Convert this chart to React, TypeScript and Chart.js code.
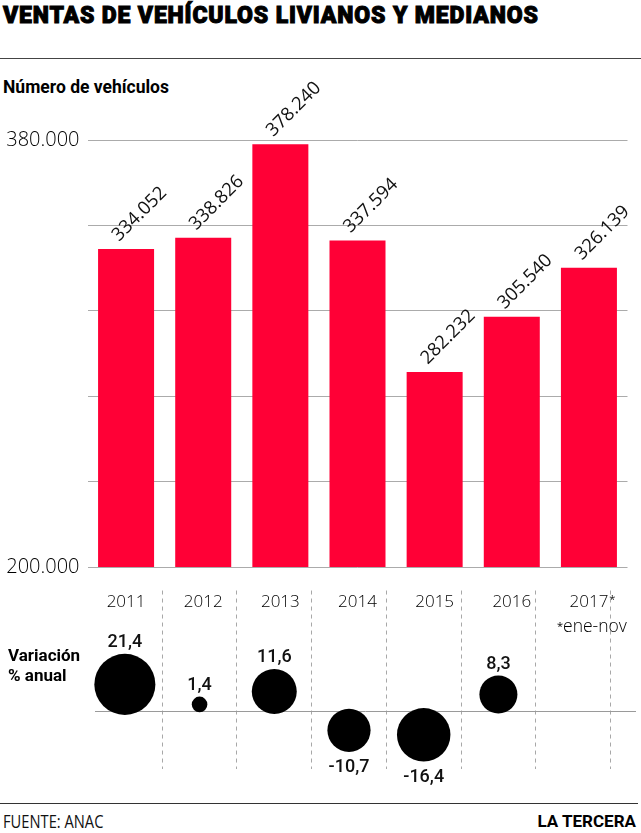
import React, { useEffect, useRef } from "react";
import { Chart, registerables } from "chart.js";

Chart.register(...registerables);

const years = ["2011", "2012", "2013", "2014", "2015", "2016", "2017*"];
const sales = [334052, 338826, 378240, 337594, 282232, 305540, 326139];
const variation: (number | null)[] = [21.4, 1.4, 11.6, -10.7, -16.4, 8.3, null];
const yMin = 200000;
const yMax = 380000;
const yStep = 36000;
const yLabeled = [200000, 380000];

const RED = "#ff0036";
const GRID = "#ababab";
const NUM_FONT = "'Open Sans', 'DejaVu Sans', sans-serif";
const BOLD_FONT = "Roboto, 'Open Sans', sans-serif";

const fmtThousands = (n: number) => String(n).replace(/\B(?=(\d{3})+(?!\d))/g, ".");
const fmtPct = (v: number) => v.toFixed(1).replace(".", ",");
const bubbleRadius = (v: number) => 6.6 * Math.sqrt(Math.abs(v));

export default function App() {
  const barRef = useRef<HTMLCanvasElement>(null);
  const bubRef = useRef<HTMLCanvasElement>(null);

  useEffect(() => {
    const barLabels = {
      id: "barLabels",
      afterDatasetsDraw(chart: any) {
        const ctx = chart.ctx;
        const meta = chart.getDatasetMeta(0);
        ctx.save();
        ctx.font = `400 18.5px ${NUM_FONT}`;
        ctx.fillStyle = "#111";
        ctx.textAlign = "left";
        ctx.textBaseline = "alphabetic";
        meta.data.forEach((el: any, i: number) => {
          ctx.save();
          ctx.translate(el.x - 7, el.y - 7);
          ctx.rotate(-Math.PI / 4);
          ctx.fillText(fmtThousands(sales[i]), 0, 0);
          ctx.restore();
        });
        ctx.restore();
      },
      afterDraw(chart: any) {
        // small superscript asterisk after starred category labels
        const ctx = chart.ctx;
        const xs = chart.scales.x;
        ctx.save();
        years.forEach((lab, i) => {
          if (!lab.endsWith("*")) return;
          ctx.font = `300 17px ${NUM_FONT}`;
          const w = ctx.measureText(lab.slice(0, -1)).width;
          const cx = xs.getPixelForValue(i);
          ctx.font = `400 11px ${NUM_FONT}`;
          ctx.fillStyle = "#111";
          ctx.textAlign = "left";
          ctx.textBaseline = "alphabetic";
          ctx.fillText("*", cx + w / 2 + 1, 603);
        });
        ctx.restore();
      },
    };

    const barChart = new Chart(barRef.current!, {
      type: "bar",
      data: {
        labels: years,
        datasets: [
          {
            data: sales,
            backgroundColor: RED,
            borderWidth: 0,
            categoryPercentage: 1,
            barPercentage: 0.726,
          },
        ],
      },
      options: {
        animation: false,
        responsive: false,
        devicePixelRatio: 1,
        layout: { padding: { left: 0, right: 13.5, top: 140, bottom: 13 } },
        plugins: { legend: { display: false }, tooltip: { enabled: false } },
        scales: {
          x: {
            offset: true,
            grid: { display: false },
            border: { display: false },
            ticks: {
              color: "#000",
              font: { family: NUM_FONT, size: 17, weight: "300" as any },
              padding: 17,
              callback: (_v: any, i: number) => years[i].replace("*", ""),
            },
            afterFit(scale: any) {
              scale.height = 60;
            },
          },
          y: {
            min: yMin,
            max: yMax,
            border: { display: false },
            grid: { color: GRID, lineWidth: 1, drawTicks: false },
            ticks: {
              stepSize: yStep,
              color: "#000",
              padding: 8,
              font: { family: NUM_FONT, size: 20, weight: "300" as any },
              callback: (v: any) => (yLabeled.includes(Number(v)) ? fmtThousands(Number(v)) : ""),
            },
            afterFit(scale: any) {
              scale.width = 87.5;
            },
          },
        },
      },
      plugins: [barLabels],
    } as any);

    const pts = years
      .map((yr, i) => {
        const v = variation[i];
        if (v == null) return null;
        const r = bubbleRadius(v);
        return { x: yr, y: v >= 0 ? r : -r, r, v };
      })
      .filter((p) => p !== null) as any[];

    const bubbleExtras = {
      id: "bubbleExtras",
      beforeDatasetsDraw(chart: any) {
        const ctx = chart.ctx;
        const y0 = Math.round(chart.scales.y.getPixelForValue(0)) + 0.5;
        ctx.save();
        ctx.strokeStyle = "#9a9a9a";
        ctx.lineWidth = 1;
        ctx.beginPath();
        ctx.moveTo(95, y0);
        ctx.lineTo(636, y0);
        ctx.stroke();
        ctx.restore();
      },
      afterDatasetsDraw(chart: any) {
        const ctx = chart.ctx;
        const meta = chart.getDatasetMeta(0);
        ctx.save();
        ctx.font = `500 18px ${BOLD_FONT}`;
        ctx.fillStyle = "#111";
        ctx.textAlign = "center";
        ctx.textBaseline = "alphabetic";
        meta.data.forEach((el: any, i: number) => {
          const p = pts[i];
          const txt = fmtPct(p.v);
          if (p.v >= 0) ctx.fillText(txt, el.x, el.y - p.r - 7);
          else ctx.fillText(txt, el.x, el.y + p.r + 20);
        });
        ctx.restore();
      },
    };

    const bubChart = new Chart(bubRef.current!, {
      type: "bubble",
      data: {
        labels: years,
        datasets: [
          {
            data: pts,
            backgroundColor: "#000",
            borderWidth: 0,
            clip: false,
          } as any,
        ],
      },
      options: {
        animation: false,
        responsive: false,
        devicePixelRatio: 1,
        layout: { padding: { left: 87.5, right: 13.5, top: 12, bottom: 25 } },
        plugins: { legend: { display: false }, tooltip: { enabled: false } },
        scales: {
          x: {
            type: "category",
            labels: years,
            offset: true,
            border: { display: false, dash: [4, 4] },
            grid: {
              offset: true,
              drawTicks: false,
              lineWidth: 1,
              color: (c: any) => (c.index === 0 || c.index === years.length ? "rgba(0,0,0,0)" : "#a8a8a8"),
            },
            ticks: { display: false },
            afterFit(scale: any) {
              scale.height = 0;
            },
          },
          y: { type: "linear", display: false, min: -66, max: 137 },
        },
      },
      plugins: [bubbleExtras],
    } as any);

    return () => {
      barChart.destroy();
      bubChart.destroy();
    };
  }, []);

  const abs = (o: React.CSSProperties): React.CSSProperties => ({ position: "absolute", whiteSpace: "nowrap", margin: 0, ...o });

  return (
    <div style={{ position: "absolute", left: 0, top: 0, width: 641, height: 833, background: "#fff", overflow: "hidden", color: "#000" }}>
      <div
        style={abs({
          left: 3,
          top: 4,
          fontFamily: BOLD_FONT,
          fontWeight: 900,
          fontSize: 23,
          lineHeight: "23px",
          letterSpacing: "0.85px",
          WebkitTextStroke: "1px #000",
        } as any)}
      >
        VENTAS DE VEHÍCULOS LIVIANOS Y MEDIANOS
      </div>
      <div style={abs({ left: 0, top: 58, width: 641, height: 1, background: "#444" })} />
      <div style={abs({ left: 3, top: 79, fontFamily: BOLD_FONT, fontWeight: 700, fontSize: 17.5, lineHeight: "17.5px" })}>
        Número de vehículos
      </div>
      <canvas ref={barRef} width={641} height={640} style={{ position: "absolute", left: 0, top: 0 }} />
      <canvas ref={bubRef} width={641} height={240} style={{ position: "absolute", left: 0, top: 560 }} />
      <div style={abs({ left: 557, top: 617, fontFamily: NUM_FONT, fontWeight: 300, fontSize: 17.5, lineHeight: "17px", color: "#000" })}>
        <span style={{ fontSize: 11, verticalAlign: "top", fontWeight: 400 }}>*</span>ene-nov
      </div>
      <div style={abs({ left: 8, top: 645, fontFamily: BOLD_FONT, fontWeight: 700, fontSize: 17, lineHeight: "20px" })}>
        Variación
        <br />% anual
      </div>
      <div style={abs({ left: 0, top: 803, width: 638, height: 1, background: "#333" })} />
      <div
        style={abs({
          left: 3,
          top: 813,
          fontFamily: NUM_FONT,
          fontWeight: 400,
          fontSize: 17.5,
          lineHeight: "17px",
          color: "#111",
          transform: "scaleX(0.84)",
          transformOrigin: "left top",
        })}
      >
        FUENTE: ANAC
      </div>
      <div style={abs({ right: 5, top: 813, fontFamily: BOLD_FONT, fontWeight: 700, fontSize: 17, lineHeight: "17px" })}>
        LA TERCERA
      </div>
    </div>
  );
}
